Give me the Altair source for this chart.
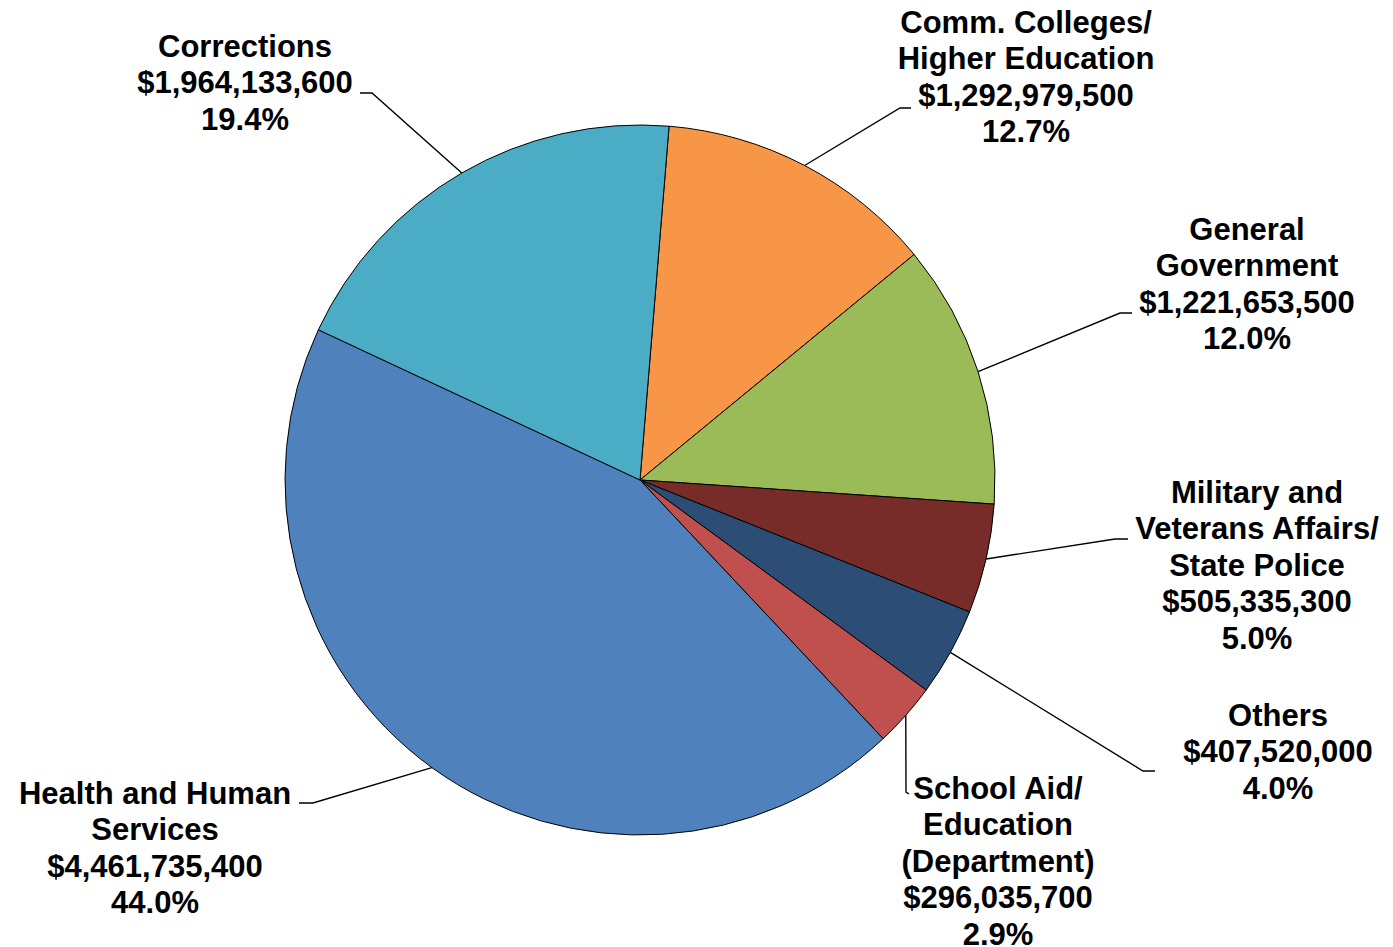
import math
import altair as alt
import pandas as pd

# ---- data ----
categories = [
    "Comm. Colleges/\nHigher Education",
    "General\nGovernment",
    "Military and\nVeterans Affairs/\nState Police",
    "Others",
    "School Aid/\nEducation\n(Department)",
    "Health and Human\nServices",
    "Corrections",
]
amounts = [1292979500, 1221653500, 505335300, 407520000, 296035700, 4461735400, 1964133600]
colors = ["#F79646", "#9BBB59", "#772C2A", "#2C4D75", "#C0504D", "#4F81BD", "#4BACC6"]

# ---- layout (page pixel coordinates) ----
CX, CY, R = 640, 480, 355
START_DEG = 4.7
label_xy = [(1026, 22), (1247, 229), (1257, 492), (1278, 715), (998, 788), (155, 793), (245, 46)]
leader_elbow = [(900, 108), (1120, 313), (1115, 539), (1143, 771), (906, 792), (313, 803), (372, 93)]
leader_end = [(911, 108), (1132, 313), (1128, 539), (1155, 771), (909, 794), (299, 803), (360, 93)]

FS = 31
LH = 36.6
W, H = 1377, 939

total = sum(amounts)
pie_df = pd.DataFrame({
    "cat": categories,
    "amount": amounts,
    "idx": list(range(len(categories))),
})

# labels
lab_rows = []
for i, (c, a) in enumerate(zip(categories, amounts)):
    pct = a / total * 100
    txt = f"{c}\n${a:,.0f}\n{pct:.1f}%"
    lx, ly = label_xy[i]
    lab_rows.append({"cat": c, "text": txt, "x": lx, "y": ly - 0.432 * FS})
lab_df = pd.DataFrame(lab_rows)

# leader lines: from slice edge at mid-angle to label
line_rows = []
cum = 0
for i, (c, a) in enumerate(zip(categories, amounts)):
    mid = START_DEG + (cum + a / 2) / total * 360
    cum += a
    rad = math.radians(mid)
    sx = CX + R * math.sin(rad)
    sy = CY - R * math.cos(rad)
    pts = [(sx, sy), leader_elbow[i], leader_end[i]]
    for k, (px, py) in enumerate(pts):
        line_rows.append({"cat": c, "k": k, "x": px, "y": py})
line_df = pd.DataFrame(line_rows)

xscale = alt.Scale(domain=[8, 8 + W], nice=False, zero=False)
yscale = alt.Scale(domain=[8, 8 + H], nice=False, zero=False, reverse=True)

off = math.radians(START_DEG)
pie = alt.Chart(pie_df).mark_arc(
    outerRadius=R, stroke="#000000", strokeWidth=1
).encode(
    theta=alt.Theta("amount:Q", stack=True,
                    scale=alt.Scale(range=[off, off + 2 * math.pi])),
    color=alt.Color("cat:N", scale=alt.Scale(domain=categories, range=colors), legend=None),
    order=alt.Order("idx:Q"),
    x=alt.datum(CX, scale=xscale, axis=None),
    y=alt.datum(CY, scale=yscale, axis=None),
)

lines = alt.Chart(line_df).mark_line(color="#000000", strokeWidth=1.4).encode(
    x=alt.X("x:Q", scale=xscale, axis=None),
    y=alt.Y("y:Q", scale=yscale, axis=None),
    detail="cat:N",
    order="k:Q",
)

labels = alt.Chart(lab_df).mark_text(
    font="Liberation Sans", fontSize=FS, fontWeight="bold", color="#000000",
    align="center", baseline="top", lineBreak="\n", lineHeight=LH,
).encode(
    x=alt.X("x:Q", scale=xscale, axis=None),
    y=alt.Y("y:Q", scale=yscale, axis=None),
    text="text:N",
)

chart = alt.layer(lines, pie, labels).properties(
    width=W, height=H,
    autosize=alt.AutoSizeParams(type="none"),
    padding=0,
).configure_view(stroke=None).resolve_scale(color="independent")

chart.save("out.html", embed_options={"renderer": "svg", "actions": False})
